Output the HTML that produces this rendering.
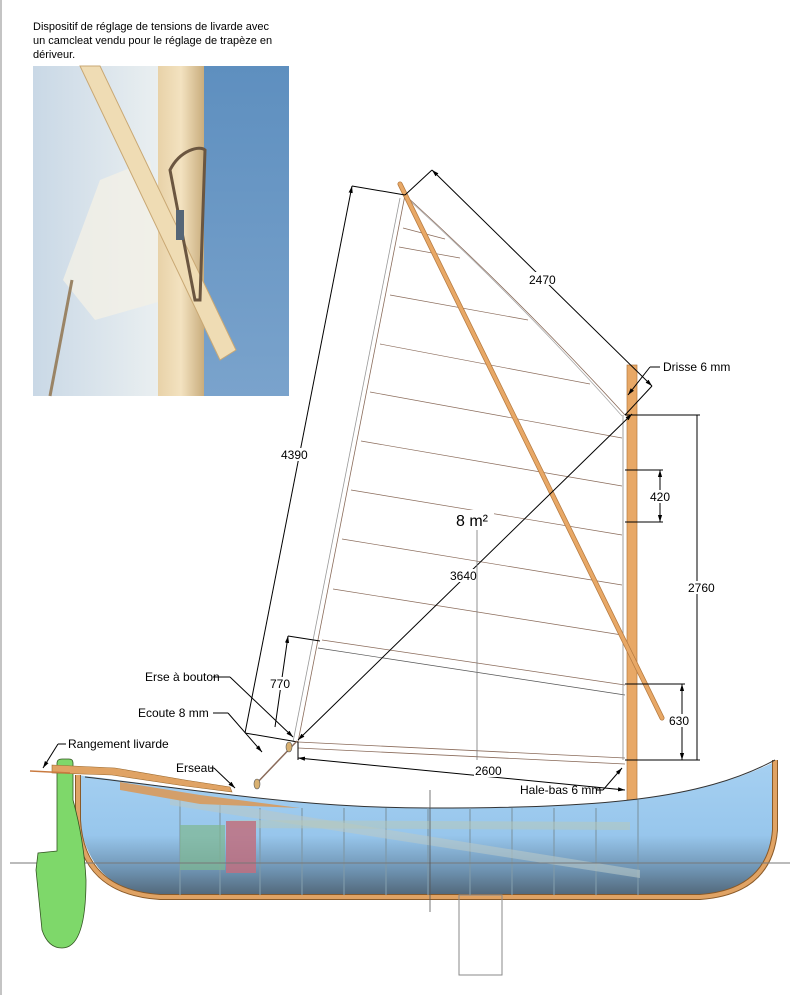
<!DOCTYPE html>
<html><head><meta charset="utf-8"><style>
html,body{margin:0;padding:0;background:#fff;width:790px;height:995px;overflow:hidden}
svg{display:block}
text{font-family:"Liberation Sans",sans-serif;fill:#000}
</style></head><body>
<svg width="790" height="995" viewBox="0 0 790 995" xmlns="http://www.w3.org/2000/svg">
<defs>
<linearGradient id="sky" x1="0" y1="0" x2="0" y2="1"><stop offset="0" stop-color="#5e8fbf"/><stop offset="1" stop-color="#7aa3cc"/></linearGradient>
<linearGradient id="sailp" x1="0" y1="0" x2="1" y2="0"><stop offset="0" stop-color="#c9d8e6"/><stop offset="1" stop-color="#eef2f2"/></linearGradient>
<linearGradient id="mastp" x1="0" y1="0" x2="1" y2="0"><stop offset="0" stop-color="#e8d2a8"/><stop offset="0.5" stop-color="#f3e2c0"/><stop offset="1" stop-color="#c9ad7d"/></linearGradient>
<linearGradient id="water" x1="0" y1="0" x2="0" y2="1"><stop offset="0" stop-color="#9ccbf0"/><stop offset="0.55" stop-color="#8cc0ea"/><stop offset="0.8" stop-color="#5f88aa"/><stop offset="1" stop-color="#3c5366"/></linearGradient>
<marker id="ar" viewBox="0 0 10 10" refX="10" refY="5" markerWidth="7" markerHeight="7" orient="auto-start-reverse"><path d="M0,2 L10,5 L0,8 z" fill="#000"/></marker>
</defs>
<line x1="1" y1="0" x2="1" y2="995" stroke="#888" stroke-width="1"/>
<text x="33" y="30" font-size="11">Dispositif de réglage de tensions de livarde avec</text>
<text x="33" y="44" font-size="11">un camcleat vendu pour le réglage de trapèze en</text>
<text x="33" y="58" font-size="11">dériveur.</text>
<!-- photo -->
<rect x="33" y="66" width="256" height="330" fill="url(#sky)"/>
<path d="M33,66 L175,66 L175,396 L33,396z" fill="url(#sailp)"/>
<path d="M100,180 L150,160 L165,300 L95,320 L63,280z" fill="#f2f0e6" opacity="0.8"/>
<rect x="158" y="66" width="46" height="330" fill="url(#mastp)"/>
<path d="M80,66 L100,66 L236,350 L220,360z" fill="#efdcb4" stroke="#c9a874" stroke-width="1"/>
<path d="M170,170 C180,150 200,145 205,150 L200,300 L195,300z" fill="none" stroke="#6b5640" stroke-width="3"/>
<rect x="176" y="210" width="8" height="30" fill="#556677"/>
<path d="M72,280 L50,396" stroke="#9a8466" stroke-width="3"/>
<!-- sail -->
<g stroke="#8a6b5a" stroke-width="0.8" fill="none">
<path d="M405,195 Q520,300 625,415"/>
<path d="M408,199 Q522,303 622,416" stroke="#aaa"/>
<path d="M405,195 L298,742"/>
<path d="M400,198 L293,742" stroke="#999"/>
<path d="M298,742 L625,758"/>
<path d="M298,748 L625,764"/>
</g>
<g stroke="#8a6b5a" stroke-width="0.7">
<line x1="403" y1="228" x2="445" y2="239"/>
<line x1="399" y1="247" x2="460" y2="258"/>
<line x1="390" y1="295" x2="528" y2="320"/>
<line x1="380" y1="344" x2="590" y2="384"/>
<line x1="370" y1="392" x2="622" y2="438"/>
<line x1="361" y1="441" x2="622" y2="486"/>
<line x1="351" y1="490" x2="622" y2="535"/>
<line x1="342" y1="539" x2="622" y2="585"/>
<line x1="333" y1="589" x2="622" y2="635"/>
<line x1="322" y1="640" x2="625" y2="685"/>
<line x1="318" y1="648" x2="625" y2="695" stroke="#555"/>
</g>
<!-- mast -->
<rect x="627" y="365" width="10" height="435" fill="#e8a866" stroke="#b57a40" stroke-width="0.7"/>
<line x1="623" y1="415" x2="623" y2="760" stroke="#888" stroke-width="0.8"/>
<!-- sprit -->
<line x1="400" y1="184" x2="662" y2="718" stroke="#b57a40" stroke-width="5" stroke-linecap="round"/>
<line x1="400" y1="184" x2="662" y2="718" stroke="#e8a866" stroke-width="3.5" stroke-linecap="round"/>
<!-- dimensions -->
<g stroke="#000" stroke-width="1" fill="none">
<line x1="352" y1="186" x2="405" y2="195"/>
<line x1="352" y1="186" x2="245" y2="733" marker-start="url(#ar)"/>
<line x1="245" y1="733" x2="298" y2="742"/>
<line x1="405" y1="195" x2="432" y2="170"/>
<line x1="432" y1="170" x2="652" y2="386" marker-start="url(#ar)" marker-end="url(#ar)"/>
<line x1="652" y1="386" x2="625" y2="415"/>
<line x1="298" y1="740" x2="632" y2="414" marker-start="url(#ar)" marker-end="url(#ar)"/>
<line x1="625" y1="415" x2="700" y2="415"/>
<line x1="625" y1="760" x2="700" y2="760"/>
<line x1="697" y1="415" x2="697" y2="760"/>
<line x1="625" y1="470" x2="663" y2="470"/>
<line x1="625" y1="522" x2="663" y2="522"/>
<line x1="660" y1="470" x2="660" y2="522" marker-start="url(#ar)" marker-end="url(#ar)"/>
<line x1="625" y1="684" x2="685" y2="684"/>
<line x1="682" y1="684" x2="682" y2="760" marker-start="url(#ar)" marker-end="url(#ar)"/>
<line x1="288" y1="636" x2="320" y2="641"/>
<line x1="288" y1="636" x2="275" y2="727" marker-start="url(#ar)"/>
<line x1="298" y1="758" x2="625" y2="790" marker-start="url(#ar)" marker-end="url(#ar)"/>
<line x1="298" y1="742" x2="298" y2="760"/>
</g>
<line x1="477" y1="530" x2="477" y2="760" stroke="#777" stroke-width="0.8"/>
<g font-size="12">
<rect x="280" y="448" width="24" height="13" fill="#fff"/><text x="281" y="459">4390</text>
<rect x="528" y="272" width="24" height="13" fill="#fff"/><text x="529" y="284">2470</text>
<rect x="450" y="569" width="26" height="13" fill="#fff"/><text x="450" y="580">3640</text>
<rect x="648" y="490" width="24" height="13" fill="#fff"/><text x="650" y="501">420</text>
<rect x="686" y="581" width="28" height="13" fill="#fff"/><text x="688" y="592">2760</text>
<rect x="667" y="714" width="24" height="13" fill="#fff"/><text x="669" y="725">630</text>
<rect x="268" y="677" width="24" height="13" fill="#fff"/><text x="270" y="688">770</text>
<rect x="474" y="764" width="28" height="13" fill="#fff"/><text x="475" y="775">2600</text>
</g>
<rect x="452" y="510" width="42" height="20" fill="#fff"/>
<text x="456" y="526" font-size="16">8 m²</text>
<!-- hull -->
<path d="M78,775 C200,790 300,808 430,808 C600,808 700,800 778,760 L778,830 Q770,892 700,897 L160,897 Q80,890 78,800 z" fill="url(#water)" opacity="0.9"/>
<path d="M78,775 L78,820 Q82,892 160,897 L700,897 Q770,892 775,830 L775,760" fill="none" stroke="#8a5a28" stroke-width="6"/>
<path d="M78,775 L78,820 Q82,892 160,897 L700,897 Q770,892 775,830 L775,760" fill="none" stroke="#e0a364" stroke-width="4"/>
<path d="M85,777 C200,790 300,808 430,808 C600,808 700,800 775,760" fill="none" stroke="#333" stroke-width="1"/>
<g stroke="#7f9aaa" stroke-width="1.5" opacity="0.8">
<line x1="180" y1="800" x2="180" y2="895"/><line x1="220" y1="805" x2="220" y2="895"/><line x1="260" y1="808" x2="260" y2="895"/><line x1="302" y1="808" x2="302" y2="895"/><line x1="344" y1="808" x2="344" y2="895"/><line x1="386" y1="808" x2="386" y2="895"/><line x1="428" y1="808" x2="428" y2="895"/><line x1="470" y1="808" x2="470" y2="895"/><line x1="512" y1="808" x2="512" y2="895"/><line x1="554" y1="808" x2="554" y2="895"/><line x1="596" y1="808" x2="596" y2="895"/><line x1="638" y1="800" x2="638" y2="895"/>
</g>
<path d="M170,795 L640,870 L640,878 L170,805z" fill="#b8c8c8" opacity="0.6"/>
<path d="M230,820 L630,822 L630,830 L230,828z" fill="#b8c8b8" opacity="0.5"/>
<rect x="180" y="825" width="45" height="45" fill="#7fb890" opacity="0.7"/>
<rect x="226" y="821" width="30" height="52" fill="#c07080" opacity="0.85"/>
<line x1="10" y1="863" x2="790" y2="863" stroke="#777" stroke-width="1"/>
<line x1="430" y1="790" x2="430" y2="912" stroke="#555" stroke-width="0.8"/>
<rect x="459" y="895" width="43" height="80" fill="none" stroke="#8a8a8a" stroke-width="1"/>
<!-- rudder -->
<path d="M57,763 Q57,759 62,759 L69,759 Q73,759 73,763 L73,800 Q84,840 86,880 Q86,948 62,948 Q48,948 42,930 L36,870 L38,853 L57,851 z" fill="#7ed86a" stroke="#335522" stroke-width="0.8"/>
<!-- yard/spars -->
<path d="M52,765 L115,768 L185,780 L230,787 L232,792 L185,786 L112,775 L52,773z" fill="#e0a364" stroke="#9a6a30" stroke-width="0.6"/>
<path d="M120,782 L200,795 L300,808 L200,804 L120,790z" fill="#d89a5c" opacity="0.9"/>
<line x1="30" y1="771" x2="70" y2="773" stroke="#c97a40" stroke-width="1.5"/>
<line x1="255" y1="785" x2="297" y2="741" stroke="#8a6b5a" stroke-width="1.5"/>
<ellipse cx="289" cy="747" rx="3" ry="5" fill="#d8b070" stroke="#555" stroke-width="0.6"/>
<ellipse cx="257" cy="784" rx="3" ry="5" fill="#d8b070" stroke="#555" stroke-width="0.6"/>
<!-- labels -->
<g font-size="12" stroke="#000" stroke-width="1" fill="none">
<line x1="213" y1="677" x2="230" y2="677"/><line x1="230" y1="677" x2="293" y2="737" marker-end="url(#ar)"/>
<line x1="213" y1="713" x2="228" y2="713"/><line x1="228" y1="713" x2="262" y2="752" marker-end="url(#ar)"/>
<line x1="66" y1="744" x2="58" y2="744"/><line x1="58" y1="744" x2="43" y2="768" marker-end="url(#ar)"/>
<line x1="210" y1="768" x2="214" y2="768"/><line x1="214" y1="768" x2="235" y2="788" marker-end="url(#ar)"/>
<line x1="596" y1="790" x2="603" y2="790"/><line x1="603" y1="790" x2="622" y2="768" marker-end="url(#ar)"/>
<line x1="660" y1="367" x2="650" y2="367"/><line x1="650" y1="367" x2="628" y2="395" marker-end="url(#ar)"/>
</g>
<g font-size="12">
<text x="145" y="681">Erse à bouton</text>
<text x="138" y="717">Ecoute 8 mm</text>
<text x="68" y="748">Rangement livarde</text>
<text x="176" y="772">Erseau</text>
<text x="520" y="794">Hale-bas 6 mm</text>
<text x="663" y="371">Drisse 6 mm</text>
</g>
</svg>
</body></html>
